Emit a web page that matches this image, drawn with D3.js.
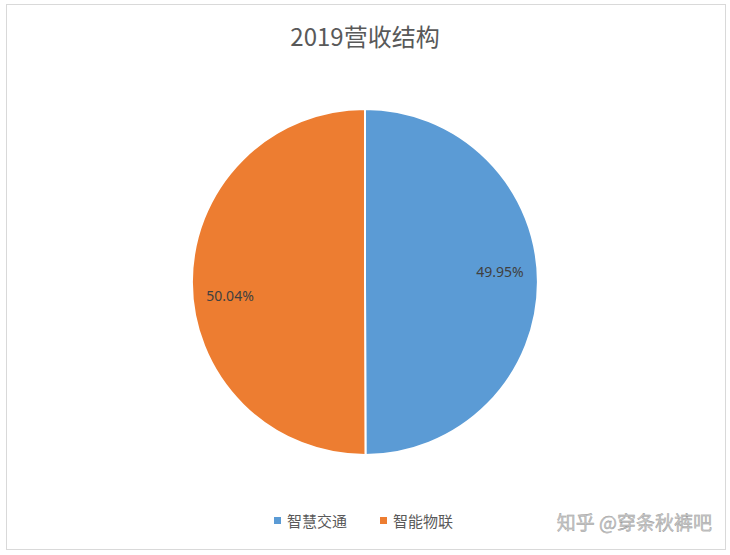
<!DOCTYPE html>
<html><head><meta charset="utf-8">
<script src="https://cdn.jsdelivr.net/npm/d3@7"></script>
<style>body{margin:0;background:#fff;font-family:"Noto Sans CJK SC","Liberation Sans",sans-serif}</style>
</head><body>
<svg id="c" width="730" height="555"></svg>
<script>
const categories = ["智慧交通", "智能物联"];
const values = [49.95, 50.04];
const colors = ["#5B9BD5", "#ED7D31"];
const title = "2019营收结构";

const svg = d3.select("#c");
svg.append("rect").attr("x", 6.5).attr("y", 4.5).attr("width", 719).attr("height", 545)
  .attr("fill", "#fff").attr("stroke", "#d9d9d9");
svg.append("text").attr("x", 365).attr("y", 46).attr("text-anchor", "middle")
  .attr("font-size", 24).attr("fill", "#595959").text(title);

const cx = 365, cy = 282, r = 173;
const pie = d3.pie().sort(null).value(d => d)(values);
const arc = d3.arc().innerRadius(0).outerRadius(r);
const g = svg.append("g").attr("transform", `translate(${cx},${cy})`);
g.selectAll("path").data(pie).join("path")
  .attr("d", arc).attr("fill", (d, i) => colors[i])
  .attr("stroke", "#fff").attr("stroke-width", 2);
const lab = d3.arc().innerRadius(r * 0.78).outerRadius(r * 0.78);
const labDy = [-5, 19];
g.selectAll("text").data(pie).join("text")
  .attr("transform", (d, i) => { const [x, y] = lab.centroid(d); return `translate(${x},${y + labDy[i]})`; })
  .attr("text-anchor", "middle").attr("font-size", 14).attr("fill", "#404040")
  .attr("font-family", "Noto Sans, sans-serif")
  .text(d => d.data.toFixed(2) + "%");

const leg = svg.append("g");
const lx = [274, 380];
categories.forEach((c, i) => {
  leg.append("rect").attr("x", lx[i]).attr("y", 517).attr("width", 7).attr("height", 7).attr("fill", colors[i]);
  leg.append("text").attr("x", lx[i] + 13).attr("y", 527).attr("font-size", 15).attr("fill", "#595959").text(c);
});
svg.append("text").attr("x", 712).attr("y", 530).attr("text-anchor", "end")
  .attr("font-size", 19).attr("fill", "#c8c8c8").attr("stroke", "#9a9a9a").attr("stroke-width", 0.4)
  .text("知乎 @穿条秋裤吧");
</script>
</body></html>
